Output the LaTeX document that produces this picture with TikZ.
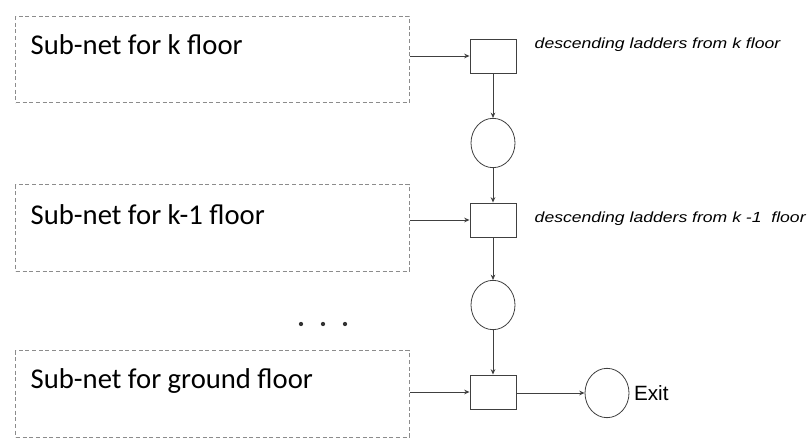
\documentclass[tikz,border=0pt]{standalone}
\usepackage{fontspec}
\setmainfont{Carlito}
\newfontfamily\arialfont{Liberation Sans}
\usetikzlibrary{arrows.meta}
\usetikzlibrary{shapes.geometric}
\newcommand{\ladderlabel}[1]{\scalebox{1.2}[1]{\arialfont\itshape #1}}

\begin{document}
\begin{tikzpicture}[x=0.75pt,y=-0.75pt,
    subnet/.style = {draw=black!45, densely dashed, line width=0.6pt, minimum width=295pt, minimum height=65pt, inner sep=0pt},
    trans/.style = {draw=black!75, line width=0.7pt, minimum width=34.5pt, minimum height=25.5pt, inner sep=0pt},
    place/.style = {draw=black!75, ellipse, line width=0.6pt, minimum width=33pt, minimum height=37pt, inner sep=0pt},
    arc/.style = {draw=black!75, line width=0.7pt, -{Stealth[length=4pt,width=3.5pt]}}]
    \useasboundingbox (0,0) rectangle (809,446);
    % sub-nets
    \begin{scope}[every node/.style={subnet}]
        \node (subk) at (212.5,59.5) {};
        \node (subkm) at (212.5,228) {};
        \node (subg) at (212.5,394) {};
    \end{scope}
    \node[anchor=west, font=\fontsize{21.5}{24}\selectfont] (labk) at (26,45) {Sub-net for k floor};
    \node[anchor=west, font=\fontsize{21.5}{24}\selectfont] (labkm) at (26,215) {Sub-net for k-1 floor};
    \node[anchor=west, font=\fontsize{21.5}{24}\selectfont] (labg) at (26,381) {Sub-net for ground floor};
    % transitions and places
    \node[trans] (tk) at (493,56) {};
    \node[trans] (tkm) at (493,220) {};
    \node[trans] (tg) at (493,392) {};
    \node[place] (pk) at (493,143) {};
    \node[place] (pkm) at (493,305) {};
    \node[place] (pexit) at (607,393) {};
    \node[anchor=west, font=\fontsize{11}{13}\selectfont] (ladk) at (530,45) {\ladderlabel{descending ladders from k floor}};
    \node[anchor=west, font=\fontsize{11}{13}\selectfont] (ladkm) at (530,219) {\ladderlabel{descending ladders from k -1\ \ floor}};
    \node[anchor=west, font=\arialfont\fontsize{15.5}{18}\selectfont] (exit) at (pexit.east) {Exit};
    % dots
    \foreach \x/\name in {301/da,323/db,345/dc}
        \node[circle, fill=black!80, minimum size=3.2pt, inner sep=0pt] (\name) at (\x,324) {};
    % arcs
    \draw[arc] (subk.east |- tk.west) -- (tk.west);
    \draw[arc] (subkm.east |- tkm.west) -- (tkm.west);
    \draw[arc] (subg.east |- tg.west) -- (tg.west);
    \draw[arc] (tk.south) -- (pk.north);
    \draw[arc] (pk.south) -- (tkm.north);
    \draw[arc] (tkm.south) -- (pkm.north);
    \draw[arc] (pkm.south) -- (tg.north);
    \draw[arc] (tg.east |- pexit.west) -- (pexit.west);
\end{tikzpicture}
\end{document}
